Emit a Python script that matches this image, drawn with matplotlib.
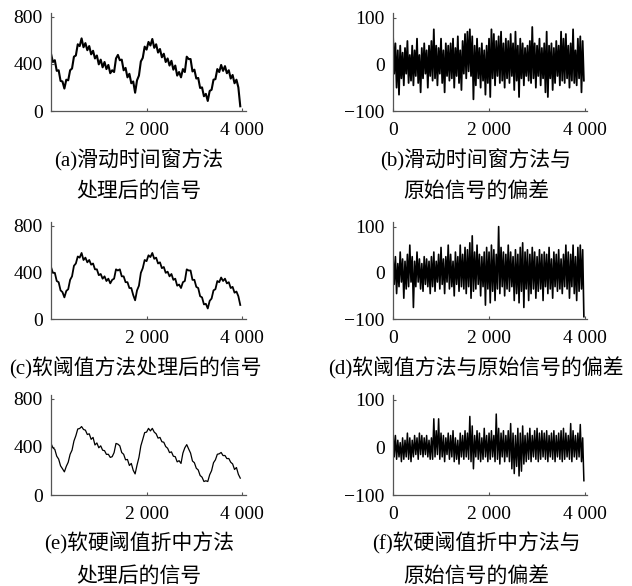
import numpy as np
import matplotlib
matplotlib.use('Agg')
import matplotlib.pyplot as plt

# 信号数据
sig_a = [485, 415, 430, 340, 345, 255, 250, 190, 265, 260,
         345, 360, 460, 470, 565, 550, 615, 540, 575, 515,
         550, 480, 510, 445, 470, 395, 435, 370, 415, 355,
         390, 320, 345, 330, 445, 475, 430, 435, 345, 365,
         285, 315, 235, 250, 155, 260, 300, 420, 450, 545,
         520, 585, 555, 610, 535, 565, 495, 525, 455, 485,
         415, 445, 385, 425, 350, 385, 300, 330, 285, 355,
         330, 460, 440, 440, 335, 350, 275, 280, 195, 200,
         125, 145, 85, 170, 180, 265, 270, 355, 330, 390,
         340, 380, 320, 345, 275, 305, 235, 265, 200, 40]

sig_c = [445, 395, 395, 325, 315, 245, 230, 185, 240, 255,
         335, 365, 455, 475, 535, 525, 565, 505, 525, 485,
         505, 465, 475, 425, 425, 375, 385, 345, 365, 325,
         345, 305, 335, 345, 425, 415, 425, 365, 365, 315,
         315, 265, 265, 205, 160, 245, 285, 395, 435, 505,
         495, 545, 530, 565, 515, 525, 475, 485, 435, 445,
         395, 405, 365, 385, 335, 345, 285, 295, 265, 315,
         325, 425, 415, 415, 335, 335, 275, 265, 195, 185,
         125, 130, 90, 155, 175, 245, 255, 325, 315, 355,
         325, 345, 305, 315, 265, 275, 225, 235, 195, 120]

sig_e = [428, 392, 378, 322, 298, 242, 218, 192, 238, 272,
         338, 372, 448, 492, 548, 552, 568, 544, 538, 502,
         508, 462, 478, 415, 432, 392, 408, 372, 368, 337,
         338, 312, 318, 352, 428, 422, 408, 352, 338, 292,
         295, 245, 262, 205, 175, 248, 312, 408, 462, 518,
         522, 553, 532, 553, 522, 508, 472, 478, 442, 438,
         402, 388, 352, 358, 322, 318, 275, 285, 262, 348,
         392, 418, 382, 348, 282, 268, 222, 208, 162, 148,
         112, 118, 112, 168, 202, 268, 292, 338, 342, 353,
         327, 328, 302, 303, 272, 258, 212, 228, 172, 140]

# 偏差数据
dev_b = [65, -20, 45, -50, 30, -65, 40, -30, 25, -45, 35, -20, 50, -40, 20, -35,
         40, -45, 30, -25, 55, -40, 20, -60, 35, -30, 45, -20, 30, -50, 40, -25,
         50, -35, 75, -30, 40, -45, 35, -20, 55, -40, 30, -60, 45, -25, 40, -35,
         45, -30, 55, -50, 35, -25, 60, -40, 30, -55, 50, -20, 65, -30, 70, -15,
         75, -25, 60, -75, 40, -45, 55, -30, 35, -50, 45, -35, 30, -65, 40, -40,
         55, -70, 75, -30, 65, -45, 50, -25, 60, -40, 70, -35, 45, -50, 55, -30,
         50, -40, 65, -25, 45, -55, 70, -35, 40, -70, 55, -30, 45, -45, 35, -25,
         40, -35, 50, -40, 80, -30, 45, -50, 40, -25, 55, -45, 35, -30, 45, -60,
         70, -70, 40, -30, 45, -55, 35, -40, 50, -25, 40, -45, 70, -35, 55, -40,
         65, -30, 40, -50, 45, -35, 75, -40, 30, -45, 55, -30, 60, -60, 50, -35]

dev_d = [40, -25, 35, -45, 20, -30, 45, -20, 30, -55, 25, -35, 40, -30, 60, -20,
         35, -75, 25, -30, 45, -20, 30, -35, 20, -40, 35, -25, 30, -30, 25, -45,
         35, -30, 45, -40, 25, -20, 40, -35, 55, -25, 30, -45, 35, -20, 60, -35,
         40, -30, 25, -50, 45, -25, 35, -40, 60, -30, 40, -35, 55, -45, 50, -30,
         65, -55, 80, -40, 45, -35, 60, -25, 40, -50, 35, -30, 45, -70, 55, -35,
         45, -65, 60, -40, 50, -60, 40, -35, 100, -45, 55, -30, 45, -50, 40, -35,
         60, -40, 45, -30, 35, -60, 50, -45, 40, -65, 55, -40, 65, -75, 45, -35,
         50, -60, 40, -45, 55, -35, 45, -55, 35, -40, 50, -35, 40, -60, 45, -30,
         40, -45, 55, -35, 30, -55, 45, -30, 40, -40, 50, -35, 30, -45, 40, -30,
         60, -35, 45, -55, 40, -30, 60, -45, 35, -60, 55, -40, 60, -35, 50, -95]

dev_f = [40, -20, 25, -25, 15, -20, 10, -30, 20, -25, 15, -20, 30, -25, 20, -30,
         15, -20, 25, -15, 20, -25, 30, -15, 25, -20, 20, -15, 25, -20, 15, -25,
         20, -25, 60, -20, 35, -15, 60, -25, 30, -20, 25, -30, 20, -15, 30, -25,
         25, -20, 35, -30, 20, -25, 15, -35, 30, -20, 25, -25, 35, -20, 30, -25,
         65, -30, 45, -45, 25, -20, 35, -25, 30, -30, 20, -25, 40, -20, 25, -30,
         30, -25, 35, -20, 25, -30, 70, -25, 40, -35, 30, -20, 35, -30, 25, -20,
         35, -30, 50, -45, 30, -55, 25, -40, 40, -60, 30, -50, 45, -35, 25, -30,
         30, -25, 40, -30, 25, -20, 35, -25, 40, -30, 30, -25, 35, -20, 30, -25,
         35, -30, 25, -20, 30, -25, 35, -30, 25, -20, 30, -25, 35, -30, 40, -25,
         30, -20, 25, -25, 50, -30, 35, -20, 25, -25, 30, -20, 48, -30, 20, -70]

sig_ticks = [0, 400, 800]
dev_ticks = [-100, 0, 100]
x_ticks_left = [2000, 4000]
x_ticks_right = [0, 2000, 4000]
x_labels_left = ['2 000', '4 000']
x_labels_right = ['0', '2 000', '4 000']

captions = [
    ['(a)滑动时间窗方法', '处理后的信号'],
    ['(b)滑动时间窗方法与', '原始信号的偏差'],
    ['(c)软阈值方法处理后的信号'],
    ['(d)软阈值方法与原始信号的偏差'],
    ['(e)软硬阈值折中方法', '处理后的信号'],
    ['(f)软硬阈值折中方法与', '原始信号的偏差'],
]

num_font = 'Liberation Serif'
cap_font = ['Liberation Serif', 'Noto Sans CJK SC']

fig = plt.figure(figsize=(6.32, 5.86), dpi=100)
W, H = 632, 586

def px_axes(x0, x1, y0, y1):
    return fig.add_axes([x0 / W, 1 - y1 / H, (x1 - x0) / W, (y1 - y0) / H])

rows = [(13, 111), (222, 319), (395, 495)]
sigs = [sig_a, sig_c, sig_e]
devs = [dev_b, dev_d, dev_f]
sig_lw = [1.5, 1.3, 0.9]
dev_lw = [1.3, 1.2, 1.1]

def style(ax):
    for s in ['top', 'right']:
        ax.spines[s].set_visible(False)
    for s in ['left', 'bottom']:
        ax.spines[s].set_color('#555555')
        ax.spines[s].set_linewidth(0.9)
    ax.tick_params(direction='in', length=2.5, width=0.8, colors='#555555',
                   labelcolor='black', labelsize=14)
    ax.tick_params(axis='x', pad=8)
    ax.tick_params(axis='y', pad=6)
    for lab in ax.get_xticklabels() + ax.get_yticklabels():
        lab.set_fontfamily(num_font)

for i, (y0, y1) in enumerate(rows):
    # 左侧：处理后的信号
    ax = px_axes(51, 246, y0, y1)
    s = sigs[i]
    ax.plot(np.arange(len(s)) * 40, s, color='black', lw=sig_lw[i])
    ax.set_xlim(0, 4080)
    ax.set_ylim(0, 830)
    ax.set_xticks(x_ticks_left)
    ax.set_xticklabels(x_labels_left)
    ax.set_yticks(sig_ticks)
    style(ax)

    # 右侧：偏差
    ax = px_axes(393, 587, y0, y1)
    d = devs[i]
    ax.plot(np.arange(len(d)) * 25, d, color='black', lw=dev_lw[i])
    ax.set_xlim(0, 4040)
    ax.set_ylim(-100, 110)
    ax.set_xticks(x_ticks_right)
    ax.set_xticklabels(x_labels_right)
    ax.set_yticks(dev_ticks)
    style(ax)

# 子图标题
cap_pos = [
    (139, [160, 192]), (476, [160, 192]),
    (135, [368]), (476, [368]),
    (139, [543, 577]), (476, [543, 577]),
]
for (cx, ys), lines in zip(cap_pos, captions):
    for yy, txt in zip(ys, lines):
        fig.text(cx / W, 1 - yy / H, txt, ha='center', va='center',
                 fontsize=15, family=cap_font)

fig.savefig('out.png', dpi=100, facecolor='white')
